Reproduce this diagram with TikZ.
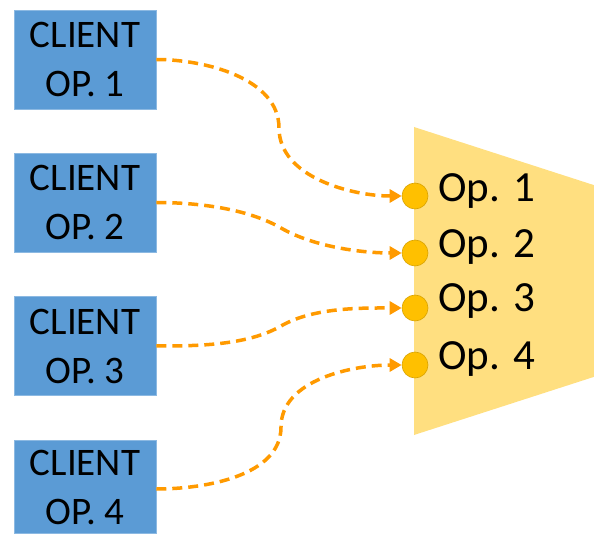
\documentclass[tikz,border=0pt]{standalone}
\usepackage{fontspec}
\setmainfont{Carlito}
\usetikzlibrary{arrows.meta}
\definecolor{boxblue}{HTML}{5B9BD5}
\definecolor{trapy}{HTML}{FFDF80}
\definecolor{dotfill}{HTML}{FFC000}
\definecolor{dotedge}{HTML}{D9A300}
\definecolor{arrorange}{HTML}{FF9A00}
\tikzset{
  client/.style={fill=boxblue, draw=boxblue!70!white, line width=0.6pt, minimum width=142pt, minimum height=99pt, inner sep=0pt, align=center, font=\fontsize{39}{49}\selectfont},
  port/.style={circle, fill=dotfill, draw=dotedge, line width=0.6pt, minimum size=26pt, inner sep=0pt},
  oplabel/.style={anchor=west, inner sep=0pt, font=\fontsize{43}{49}\selectfont},
  conn/.style={draw=arrorange, line width=3.5pt, dash pattern=on 10pt off 6pt, -{Triangle[length=12pt,width=13pt,fill=arrorange]}, shorten >=0pt}
}
\begin{document}
\begin{tikzpicture}[x=1pt,y=-1pt]
\useasboundingbox (0,0) rectangle (594,534);
\clip (0,0) rectangle (594,534);
% trapezoid
\fill[trapy] (414,127) -- (640,200) -- (640,362) -- (414,435) -- cycle;
% clients
\node[client] (c1) at (85,59.5) {CLIENT\\OP. 1};
\node[client] (c2) at (85,202.5) {CLIENT\\OP. 2};
\node[client] (c3) at (85,346) {CLIENT\\OP. 3};
\node[client, minimum height=93pt] (c4) at (85,487) {CLIENT\\OP. 4};
% ports
\node[port] (p1) at (415,196) {};
\node[port] (p2) at (415,253) {};
\node[port] (p3) at (415,308) {};
\node[port] (p4) at (415,365) {};
% labels
\node[oplabel] (l1) at (438,191) {Op. 1};
\node[oplabel] (l2) at (438,247) {Op. 2};
\node[oplabel] (l3) at (438,301) {Op. 3};
\node[oplabel] (l4) at (438,359) {Op. 4};
% mid points
\coordinate (m1) at (279,128);
\coordinate (m2) at (281,228);
\coordinate (m3) at (281,326);
\coordinate (m4) at (281,427);
% connectors
\draw[conn] (c1.east) to[out=0,in=90,looseness=0.9] (m1) to[out=-90,in=180,looseness=0.9] (p1.west);
\draw[conn] (c2.east) to[out=0,in=150,looseness=0.8] (m2) to[out=-30,in=180,looseness=0.8] (p2.west);
\draw[conn] (c3.east) to[out=0,in=-150,looseness=0.8] (m3) to[out=30,in=180,looseness=0.8] (p3.west);
\draw[conn] ([yshift=-2pt]c4.east) to[out=0,in=-90,looseness=0.9] (m4) to[out=90,in=180,looseness=0.9] (p4.west);
\end{tikzpicture}
\end{document}
